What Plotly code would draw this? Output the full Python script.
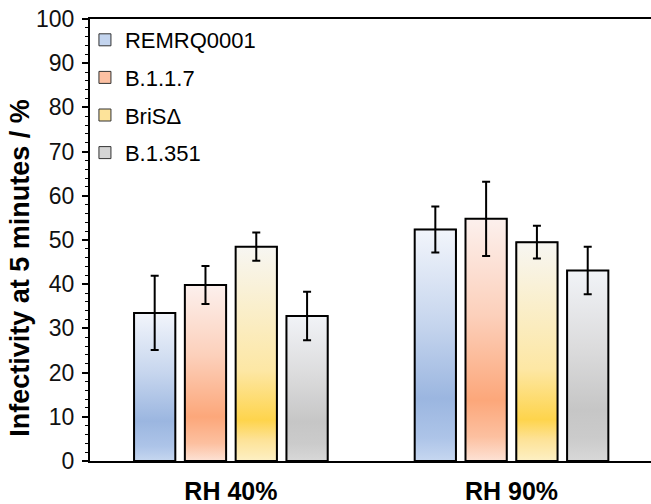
import plotly.graph_objects as go

# ---- data ----
categories = ["RH 40%", "RH 90%"]
series_names = ["REMRQ0001", "B.1.1.7", "BriSΔ", "B.1.351"]
remrq = [33.5, 52.4]
b117 = [39.8, 54.8]
bris = [48.5, 49.5]
b1351 = [32.8, 43.1]
remrq_err = [8.4, 5.2]
b117_err = [4.3, 8.4]
bris_err = [3.2, 3.7]
b1351_err = [5.5, 5.4]
y_tick_vals = list(range(0, 101, 10))
y_title = "Infectivity at 5 minutes / %"

values = [remrq, b117, bris, b1351]
errors = [remrq_err, b117_err, bris_err, b1351_err]

# ---- styles ----
FONT = "Liberation Sans, Arial, sans-serif"
BAR_W = 0.147
PITCH = 0.181
offsets = [-0.345 + i * PITCH for i in range(4)]
legend_colors = ["#c3d4ee", "#fcc0a2", "#fde39a", "#d4d4d4"]
gradients = [
    [[0, "#c6d7f0"], [0.1, "#adc4e8"], [0.27, "#9bb6e0"], [0.6, "#c7d6ee"], [1, "#f2f5fb"]],
    [[0, "#fde2d5"], [0.1, "#fcc0a0"], [0.25, "#fca77a"], [0.6, "#fcd0bb"], [1, "#fcf0ed"]],
    [[0, "#fdf0c4"], [0.1, "#fde296"], [0.19, "#fed44c"], [0.42, "#fde7a4"], [1, "#f7f6f2"]],
    [[0, "#d8d8d8"], [0.12, "#cbcbcb"], [0.27, "#c6c6c6"], [0.6, "#dcdcdd"], [1, "#f1f3f7"]],
]

x_idx = list(range(len(categories)))
fig = go.Figure()

# base bars (carry the legend swatches)
for name, vals, col, off in zip(series_names, values, legend_colors, offsets):
    fig.add_trace(go.Bar(
        x=x_idx, y=vals, name=name, legendgroup=name,
        width=BAR_W, offset=off,
        marker=dict(color=col, line=dict(color="#333333", width=1)),
        xaxis="x", yaxis="y", hoverinfo="skip",
    ))

# vertical gradient fill inside each bar
for name, vals, grad, off in zip(series_names, values, gradients, offsets):
    for xi, v in zip(x_idx, vals):
        x0 = xi + off
        x1 = x0 + BAR_W
        fig.add_trace(go.Scatter(
            x=[x0, x0, x1, x1, x0], y=[0, v, v, 0, 0],
            mode="lines", line=dict(width=0), fill="toself",
            fillgradient=dict(type="vertical", colorscale=grad, start=0, stop=v),
            showlegend=False, legendgroup=name, hoverinfo="skip",
            xaxis="x", yaxis="y",
        ))

# outlines and error bars on top
for name, vals, errs, off in zip(series_names, values, errors, offsets):
    fig.add_trace(go.Bar(
        x=x_idx, y=vals, name=name, legendgroup=name, showlegend=False,
        width=BAR_W, offset=off,
        marker=dict(color="rgba(0,0,0,0)", line=dict(color="black", width=2)),
        error_y=dict(type="data", array=errs, visible=True, color="black",
                     thickness=2, width=4),
        xaxis="x2", yaxis="y",
    ))

xrange = [-0.502, 1.497]
fig.update_layout(
    width=651, height=504,
    margin=dict(l=90, r=0, t=19, b=43),
    paper_bgcolor="white", plot_bgcolor="white",
    font=dict(family=FONT, color="black", size=20),
    barmode="overlay",
    showlegend=True,
    legend=dict(x=-0.009, y=1.0, xanchor="left", yanchor="top",
                font=dict(size=22, family=FONT), bgcolor="rgba(0,0,0,0)",
                tracegroupgap=6, traceorder="grouped"),
    xaxis=dict(range=xrange, tickvals=x_idx, ticktext=categories,
               showline=True, linecolor="black", linewidth=2, mirror=True,
               ticks="", showgrid=False, zeroline=False, ticklabelstandoff=7,
               tickfont=dict(size=25, family=FONT, weight="bold")),
    xaxis2=dict(range=xrange, overlaying="x", visible=False),
    yaxis=dict(range=[0, 100], tickvals=y_tick_vals,
               showline=True, linecolor="black", linewidth=2,
               ticks="outside", ticklen=6, tickwidth=1.5, tickcolor="black",
               minor=dict(dtick=2, ticks="outside", ticklen=3, tickcolor="black", tickwidth=1),
               showgrid=False, zeroline=False, ticklabelstandoff=3,
               tickfont=dict(size=23, family=FONT, color="#111111")),
    annotations=[dict(text=y_title, textangle=-90, xref="paper", yref="paper",
                      x=-0.125, y=0.437, xanchor="center", yanchor="middle",
                      showarrow=False,
                      font=dict(size=27, family=FONT, weight="bold", color="black"))],
)

fig.write_html("out.html")
